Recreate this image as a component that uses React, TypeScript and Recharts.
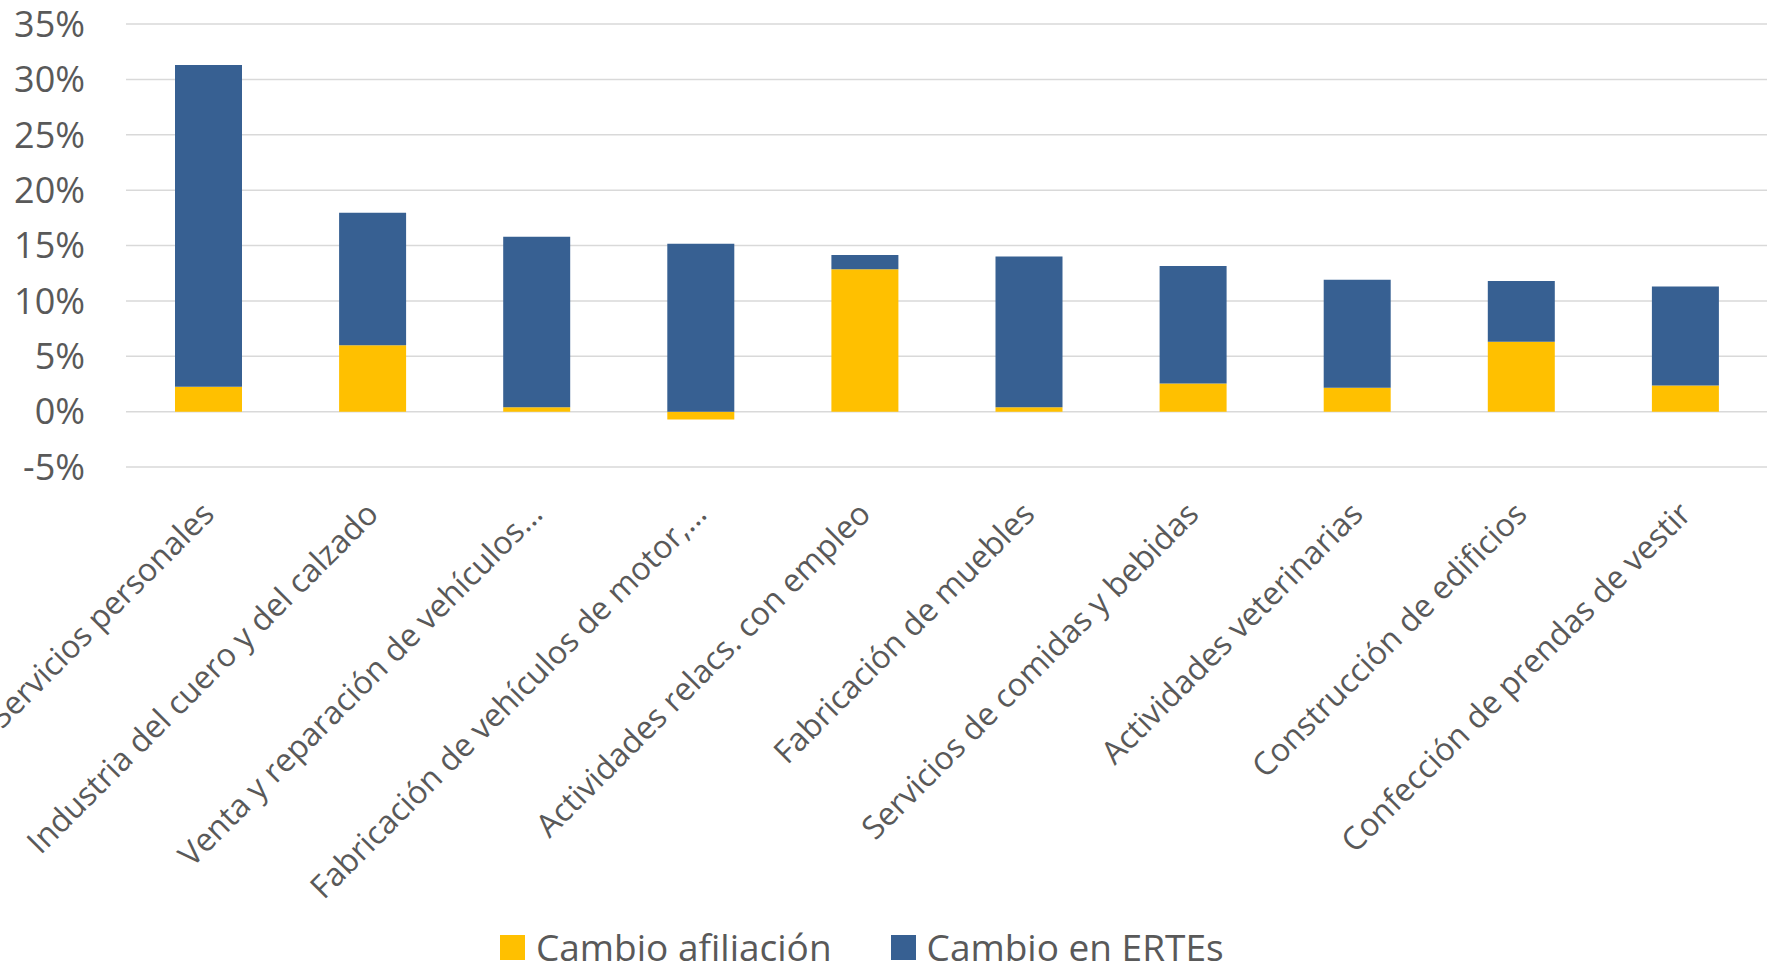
import { BarChart, Bar, XAxis, YAxis, CartesianGrid, Legend } from "recharts";

const categories = [
  "Servicios personales",
  "Industria del cuero y del calzado",
  "Venta y reparación de vehículos…",
  "Fabricación de vehículos de motor,…",
  "Actividades relacs. con empleo",
  "Fabricación de muebles",
  "Servicios de comidas y bebidas",
  "Actividades veterinarias",
  "Construcción de edificios",
  "Confección de prendas de vestir",
];

// % change
const afiliacion = [2.25, 6.0, 0.4, -0.7, 12.85, 0.4, 2.55, 2.15, 6.3, 2.35];
const ertes = [29.05, 11.95, 15.4, 15.15, 1.3, 13.6, 10.6, 9.75, 5.5, 8.95];

const yTicks = [-5, 0, 5, 10, 15, 20, 25, 30, 35];

const seriesNames = ["Cambio afiliación", "Cambio en ERTEs"];
const YELLOW = "#FFC000";
const BLUE = "#376092";
const TEXT = "#595959";
const FONT = "'Open Sans', sans-serif";

const data = categories.map((name, i) => ({
  name,
  afiliacion: afiliacion[i],
  ertes: ertes[i],
}));

function CategoryTick({ x, y, payload }: any) {
  const ax = x + 8;
  const ay = y + 49;
  return (
    <text
      x={ax}
      y={ay}
      textAnchor="end"
      fill={TEXT}
      fontSize={32}
      fontFamily={FONT}
      transform={`rotate(-45, ${ax}, ${ay})`}
    >
      {payload.value}
    </text>
  );
}

function LegendContent() {
  const items = [
    { label: seriesNames[0], color: YELLOW },
    { label: seriesNames[1], color: BLUE },
  ];
  return (
    <div style={{ display: "flex", alignItems: "center", marginTop: 24, fontFamily: FONT }}>
      {items.map((it, i) => (
        <div key={it.label} style={{ display: "flex", alignItems: "center", marginRight: i === 0 ? 59 : 0 }}>
          <span style={{ width: 25, height: 25, background: it.color, display: "inline-block", marginRight: 11 }} />
          <span style={{ fontSize: 37, color: TEXT, lineHeight: "38px", whiteSpace: "nowrap" }}>{it.label}</span>
        </div>
      ))}
    </div>
  );
}

export default function App() {
  return (
    <div style={{ width: 1767, height: 966, background: "#fff", overflow: "hidden" }}>
      <style>{"html,body{margin:0;padding:0;overflow:hidden;background:#fff}"}</style>
      <BarChart
        width={1767}
        height={966}
        data={data}
        stackOffset="sign"
        margin={{ top: 24, right: 0, left: 0, bottom: 0 }}
        barSize={67}
      >
        <CartesianGrid vertical={false} stroke="#d9d9d9" strokeWidth={1.5} />
        <XAxis
          dataKey="name"
          axisLine={false}
          tickLine={false}
          tickSize={0}
          tickMargin={0}
          interval={0}
          height={437}
          tick={<CategoryTick />}
        />
        <YAxis
          width={126}
          domain={[-5, 35]}
          ticks={yTicks}
          axisLine={false}
          tickLine={false}
          tickSize={0}
          tickMargin={41}
          tickFormatter={(v: number) => `${v}%`}
          tick={{ fill: TEXT, fontSize: 36, fontFamily: FONT }}
        />
        <Legend
          verticalAlign="bottom"
          content={<LegendContent />}
          wrapperStyle={{ left: 500, bottom: 0, width: 800, height: 62 }}
        />
        <Bar dataKey="afiliacion" name={seriesNames[0]} stackId="a" fill={YELLOW} isAnimationActive={false} />
        <Bar dataKey="ertes" name={seriesNames[1]} stackId="a" fill={BLUE} isAnimationActive={false} />
      </BarChart>
    </div>
  );
}
